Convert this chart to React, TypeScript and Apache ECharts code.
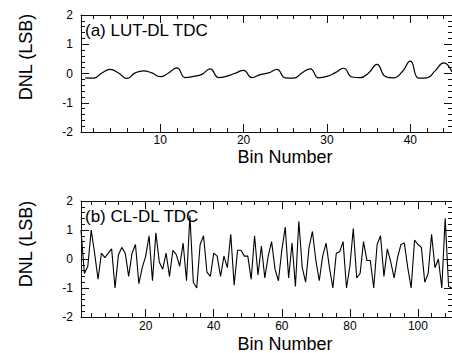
import React, { useEffect, useRef } from "react";
import * as echarts from "echarts";

// (a) LUT-DL TDC, DNL per bin (bins 1..45)
const lutDnl = [
  -0.15, -0.16, 0.02, 0.14, 0.02, -0.17, 0.02, 0.09, 0.02, -0.11,
  0.02, 0.19, -0.14, -0.1, -0.03, 0.16, -0.14, -0.09, 0.01, 0.11,
  -0.14, -0.04, 0.02, 0.14, -0.15, -0.16, 0.02, 0.16, -0.15, -0.1,
  0.03, 0.18, -0.12, -0.14, 0.02, 0.31, -0.1, -0.15, 0.05, 0.42,
  -0.16, -0.15, 0.1, 0.36, 0.05,
];

// (b) CL-DL TDC, DNL per bin (bins 1..110)
const clDnl = [
  1.0, -0.5, -0.25, 1.0, 0.2, -0.7, 0.2, 0.05, 0.2, 0.35,
  -1.0, 0.15, 0.4, 0.2, -0.6, 0.2, 0.5, -0.85, -0.3, 0.1,
  0.8, -0.75, 0.9, -0.1, -0.35, 0.2, -0.6, 0.3, 0.15, -0.25,
  0.55, -0.75, 1.5, -0.8, -1.0, 0.5, 0.8, -0.45, -0.6, 0.2,
  0.1, -0.6, 0.1, -0.3, 0.85, -0.9, 0.3, 0.3, 0.1, 0.1,
  -0.7, 0.8, -0.55, 0.45, -0.65, 0.1, 0.6, -0.35, -0.75, 0.3,
  1.1, -0.65, 0.55, -0.95, 1.3, -0.3, -0.8, 0.4, 0.95, -0.05,
  -0.75, 0.1, 0.55, -0.3, -1.0, 0.2, 0.25, 0.6, -1.0, -0.25,
  1.05, -0.65, -0.5, 0.6, -0.05, -0.05, -1.0, 0.5, 0.8, -0.6,
  0.35, -0.1, -0.65, 0.05, 0.5, 0.55, -0.3, -1.0, 0.65, 0.5,
  0.4, -0.8, -0.5, 0.85, -0.3, 0.0, -1.0, 1.4, -0.95, -1.0,
];

const topMajorX = [10, 20, 30, 40];
const topMinorX = [2, 4, 6, 8, 12, 14, 16, 18, 22, 24, 26, 28, 32, 34, 36, 38, 42, 44];
const botMajorX = [20, 40, 60, 80, 100];
const botMinorX = [4, 8, 12, 16, 24, 28, 32, 36, 44, 48, 52, 56, 64, 68, 72, 76, 84, 88, 92, 96, 104, 108];

const FONT = "'Liberation Sans', Arial, Helvetica, sans-serif";
const AX = "#111";

function xAxes(gridIndex: number, min: number, max: number, major: number[], minor: number[], labelMargin: number) {
  const base = {
    type: "value",
    gridIndex,
    min,
    max,
    splitLine: { show: false },
    minorTick: { show: false },
  };
  const line = { show: true, onZero: false, lineStyle: { color: AX, width: 1 } };
  const noLine = { show: false, onZero: false };
  return [
    {
      ...base,
      position: "bottom",
      axisLine: line,
      axisTick: { show: true, inside: true, length: 8, customValues: major, lineStyle: { color: AX } },
      axisLabel: { show: true, customValues: major, margin: labelMargin, fontSize: 12, color: "#000", fontFamily: FONT },
    },
    {
      ...base,
      position: "bottom",
      axisLine: noLine,
      axisTick: { show: true, inside: true, length: 4, customValues: minor, lineStyle: { color: AX } },
      axisLabel: { show: false },
    },
    {
      ...base,
      position: "top",
      axisLine: line,
      axisTick: { show: true, inside: true, length: 8, customValues: major, lineStyle: { color: AX } },
      axisLabel: { show: false },
    },
    {
      ...base,
      position: "top",
      axisLine: noLine,
      axisTick: { show: true, inside: true, length: 4, customValues: minor, lineStyle: { color: AX } },
      axisLabel: { show: false },
    },
  ];
}

function yAxes(gridIndex: number) {
  const base = {
    type: "value",
    gridIndex,
    min: -2,
    max: 2,
    interval: 1,
    splitLine: { show: false },
    axisLine: { show: true, onZero: false, lineStyle: { color: AX, width: 1 } },
    axisTick: { show: true, inside: true, length: 8, lineStyle: { color: AX } },
    minorTick: { show: true, splitNumber: 5, length: 4, lineStyle: { color: AX } },
  };
  return [
    {
      ...base,
      position: "left",
      axisLabel: { show: true, margin: 8, fontSize: 12, color: "#000", fontFamily: FONT },
    },
    { ...base, position: "right", axisLabel: { show: false } },
  ];
}

function txt(x: number, y: number, text: string, size: number, align: string, rotation = 0) {
  return {
    type: "text",
    x,
    y,
    rotation,
    style: {
      x: 0,
      y: 0,
      text,
      fontSize: size,
      fontFamily: FONT,
      fill: "#000",
      align,
      verticalAlign: "middle",
    },
  };
}

export default function App() {
  const ref = useRef<HTMLDivElement>(null);
  useEffect(() => {
    if (!ref.current) return;
    const chart = echarts.init(ref.current, null, { renderer: "svg" });
    const option = {
      animation: false,
      backgroundColor: "#fff",
      grid: [
        { left: 81, top: 15, width: 371, height: 117 },
        { left: 81, top: 201, width: 371, height: 116 },
      ],
      xAxis: [
        ...xAxes(0, 0.5, 45, topMajorX, topMinorX, 2),
        ...xAxes(1, 1, 110, botMajorX, botMinorX, 3),
      ],
      yAxis: [...yAxes(0), ...yAxes(1)],
      series: [
        {
          type: "line",
          xAxisIndex: 0,
          yAxisIndex: 0,
          data: lutDnl.map((v, i) => [i + 1, v]),
          smooth: 0.5,
          showSymbol: false,
          lineStyle: { color: "#000", width: 1.2 },
          clip: true,
        },
        {
          type: "line",
          xAxisIndex: 4,
          yAxisIndex: 2,
          data: clDnl.map((v, i) => [i + 1, v]),
          showSymbol: false,
          lineStyle: { color: "#000", width: 1.1 },
          clip: true,
        },
      ],
      graphic: [
        txt(85, 30, "(a) LUT-DL TDC", 17, "left"),
        txt(85, 216, "(b) CL-DL TDC", 17, "left"),
        txt(285, 156.5, "Bin Number", 18, "center"),
        txt(285, 343.5, "Bin Number", 18, "center"),
        txt(26, 57, "DNL (LSB)", 18, "center", Math.PI / 2),
        txt(26, 244, "DNL (LSB)", 18, "center", Math.PI / 2),
      ],
    };
    chart.setOption(option as any);
    return () => chart.dispose();
  }, []);
  return (
    <div
      ref={ref}
      style={{ position: "absolute", left: 0, top: 0, width: 452, height: 353, background: "#fff" }}
    />
  );
}
